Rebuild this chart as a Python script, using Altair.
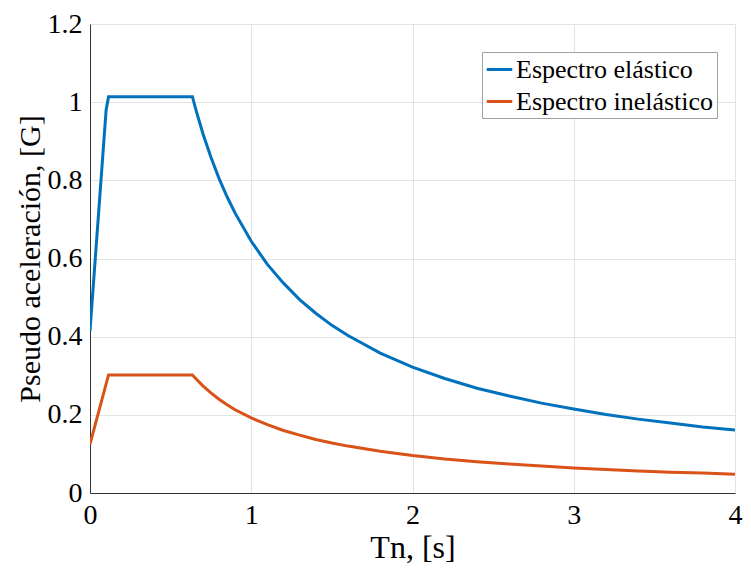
import altair as alt
import pandas as pd

# Periods (s) and read-off pseudo-accelerations (G)
t_el = [0.0, 0.10, 0.115, 0.635, 0.66, 0.70, 0.75, 0.80, 0.85, 0.90, 1.0, 1.1, 1.2, 1.3, 1.4, 1.5, 1.6, 1.8,
        2.0, 2.2, 2.4, 2.6, 2.8, 3.0, 3.2, 3.4, 3.6, 3.8, 4.0]
sa_el = [0.415, 0.98, 1.014, 1.014, 0.976, 0.92, 0.859, 0.805, 0.758, 0.716, 0.644, 0.585, 0.537, 0.495, 0.46,
         0.429, 0.403, 0.358, 0.322, 0.293, 0.268, 0.248, 0.23, 0.215, 0.201, 0.189, 0.179, 0.169, 0.161]

t_in = [0.0, 0.115, 0.635, 0.66, 0.70, 0.75, 0.80, 0.85, 0.90, 1.0, 1.1, 1.2, 1.3, 1.4, 1.5, 1.6, 1.8,
        2.0, 2.2, 2.4, 2.6, 2.8, 3.0, 3.2, 3.4, 3.6, 3.8, 4.0]
sa_in = [0.125, 0.302, 0.302, 0.291, 0.274, 0.256, 0.24, 0.226, 0.213, 0.192, 0.175, 0.16, 0.148, 0.137,
         0.128, 0.12, 0.107, 0.096, 0.087, 0.08, 0.074, 0.069, 0.064, 0.06, 0.056, 0.053, 0.051, 0.048]

series = ["Espectro elástico", "Espectro inelástico"]
colors = ["#0072BD", "#D95319"]

df = pd.concat([
    pd.DataFrame({"T": t_el, "Sa": sa_el, "serie": series[0], "o": range(len(t_el))}),
    pd.DataFrame({"T": t_in, "Sa": sa_in, "serie": series[1], "o": range(len(t_in))}),
])

FONT = "Liberation Serif"

chart = alt.Chart(df).mark_line(strokeWidth=3, clip=True).encode(
    x=alt.X("T:Q", scale=alt.Scale(domain=[0, 4], nice=False),
            axis=alt.Axis(values=[0, 1, 2, 3, 4], title="Tn, [s]", format="d", labelFlush=False,
                          labelPadding=8, titlePadding=3, titleFontSize=32)),
    y=alt.Y("Sa:Q", scale=alt.Scale(domain=[0, 1.2], nice=False),
            axis=alt.Axis(values=[0, 0.2, 0.4, 0.6, 0.8, 1.0, 1.2], title="Pseudo aceleración, [G]",
                          labelPadding=8, titlePadding=2, titleFontSize=30, labelFlush=False,
                          labelExpr="datum.value == 0 ? '0' : datum.value == 1 ? '1' : format(datum.value, '.1f')")),
    color=alt.Color("serie:N", scale=alt.Scale(domain=series, range=colors),
                    legend=alt.Legend(title=None, orient="none", legendX=392, legendY=28,
                                      symbolType="stroke", symbolStrokeWidth=3, symbolSize=650,
                                      labelFont=FONT, labelFontSize=26, labelColor="#000000",
                                      strokeColor="#a0a0a0", fillColor="white", padding=3,
                                      rowPadding=4, labelOffset=2, labelLimit=400)),
    order="o:Q",
).properties(
    width=645, height=469,
    autosize=alt.AutoSizeParams(type="none"),
    padding={"left": 82, "top": 16, "right": 8, "bottom": 72},
).configure_view(stroke=None).configure_axis(
    labelFont=FONT, titleFont=FONT, labelFontSize=28,
    labelColor="#000000", titleColor="#000000", titleFontWeight="normal",
    gridColor="#e3e3e3", gridWidth=1, domainColor="#333333", domainWidth=1,
    ticks=False,
)

chart.save("out.html", embed_options={"renderer": "svg", "actions": False})
